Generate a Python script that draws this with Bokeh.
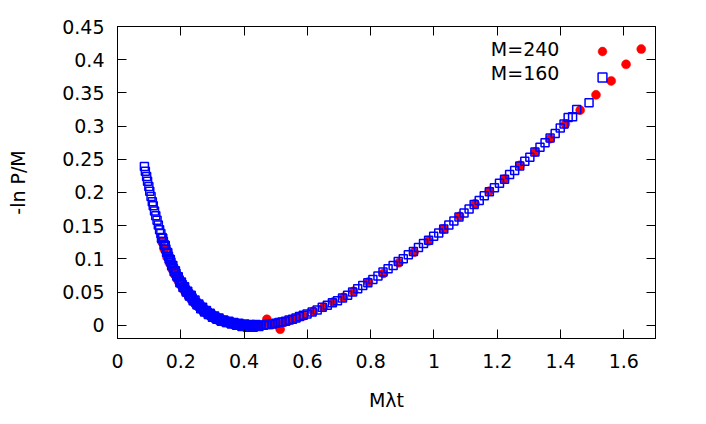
from bokeh.plotting import figure
from bokeh.models import (FixedTicker, LinearAxis, Label, Legend, LegendItem,
                          CustomJSTickFormatter, Range1d, ColumnDataSource)
from bokeh.embed import file_html
from bokeh.resources import INLINE

# ---------------- data ----------------
x_ticks = [0, 0.2, 0.4, 0.6, 0.8, 1.0, 1.2, 1.4, 1.6]
y_ticks = [0, 0.05, 0.1, 0.15, 0.2, 0.25, 0.3, 0.35, 0.4, 0.45]
labels = ["M=240", "M=160"]

x240 = [0.140, 0.148, 0.156, 0.164, 0.172, 0.180, 0.189, 0.198, 0.207, 0.216,
        0.225, 0.234, 0.244, 0.254, 0.264, 0.274, 0.284, 0.294, 0.305, 0.316,
        0.327, 0.338, 0.350, 0.362, 0.374, 0.386, 0.398, 0.410, 0.422, 0.434,
        0.446, 0.458, 0.472, 0.486, 0.500, 0.514, 0.528, 0.542, 0.557, 0.572,
        0.588, 0.619, 0.651, 0.682, 0.714, 0.746, 0.793, 0.840, 0.889, 0.937,
        0.983, 1.030, 1.081, 1.130, 1.175, 1.223, 1.272, 1.320, 1.367, 1.415,
        1.462, 1.512, 1.560, 1.607, 1.655]
y240 = [0.126, 0.114, 0.103, 0.094, 0.085, 0.077, 0.069, 0.062, 0.055, 0.049,
        0.043, 0.038, 0.033, 0.028, 0.024, 0.020, 0.016, 0.013, 0.010, 0.008,
        0.006, 0.004, 0.003, 0.002, 0.001, 0.000, -0.001, -0.001, -0.002, -0.002,
        -0.001, 0.000, 0.009, 0.001, 0.002, -0.006, 0.005, 0.007, 0.009, 0.012,
        0.014, 0.021, 0.027, 0.035, 0.042, 0.051, 0.065, 0.078, 0.094, 0.110,
        0.127, 0.145, 0.164, 0.183, 0.202, 0.220, 0.241, 0.261, 0.281, 0.303,
        0.324, 0.347, 0.368, 0.393, 0.416]

x160 = [0.085, 0.088, 0.092, 0.095, 0.099, 0.102, 0.106, 0.110, 0.113, 0.117,
        0.121, 0.125, 0.129, 0.133, 0.137, 0.141, 0.145, 0.149, 0.153, 0.157,
        0.161, 0.165, 0.169, 0.173, 0.177, 0.181, 0.185, 0.190, 0.195, 0.200,
        0.205, 0.210, 0.215, 0.220, 0.225, 0.230, 0.236, 0.242, 0.248, 0.254,
        0.260, 0.266, 0.272, 0.278, 0.284, 0.290, 0.297, 0.304, 0.311, 0.318,
        0.325, 0.332, 0.340, 0.348, 0.356, 0.364, 0.372, 0.380, 0.389, 0.398,
        0.407, 0.416, 0.425, 0.434, 0.443, 0.452, 0.461, 0.470, 0.480, 0.490,
        0.500, 0.510, 0.520, 0.531, 0.542, 0.553, 0.564, 0.575, 0.587, 0.599,
        0.615, 0.631, 0.647, 0.663, 0.679, 0.695, 0.711, 0.727, 0.743, 0.759,
        0.775, 0.791, 0.807, 0.823, 0.839, 0.855, 0.871, 0.887, 0.903, 0.919,
        0.935, 0.951, 0.967, 0.983, 0.999, 1.015, 1.031, 1.047, 1.063, 1.079,
        1.095, 1.111, 1.127, 1.143, 1.159, 1.175, 1.191, 1.207, 1.223, 1.239,
        1.255, 1.271, 1.287, 1.303, 1.319, 1.335, 1.351, 1.367, 1.383, 1.399,
        1.411, 1.424, 1.438, 1.451, 1.490,
        0.139, 0.143, 0.147, 0.151, 0.155, 0.159, 0.163, 0.167, 0.171, 0.175,
        0.179, 0.183, 0.187, 0.192, 0.197, 0.202, 0.207, 0.212, 0.217, 0.222,
        0.227, 0.233, 0.239, 0.245, 0.251, 0.257, 0.263, 0.269, 0.275, 0.281,
        0.287, 0.293, 0.300, 0.307, 0.314, 0.321, 0.328, 0.336, 0.344, 0.352,
        0.360, 0.368, 0.376, 0.384, 0.393, 0.402, 0.411, 0.420, 0.429, 0.438,
        0.447]
y160 = [0.239, 0.232, 0.224, 0.217, 0.209, 0.202, 0.194, 0.186, 0.180, 0.172,
        0.165, 0.158, 0.151, 0.144, 0.138, 0.132, 0.126, 0.121, 0.115, 0.110,
        0.104, 0.099, 0.095, 0.090, 0.085, 0.081, 0.078, 0.073, 0.068, 0.064,
        0.061, 0.057, 0.053, 0.050, 0.047, 0.044, 0.041, 0.037, 0.034, 0.031,
        0.029, 0.026, 0.023, 0.021, 0.019, 0.017, 0.015, 0.013, 0.011, 0.010,
        0.008, 0.007, 0.006, 0.005, 0.004, 0.003, 0.002, 0.001, 0.001, 0.000,
        0.000, -0.001, -0.001, -0.001, -0.001, 0.000, 0.000, 0.001, 0.001, 0.002,
        0.003, 0.004, 0.005, 0.006, 0.008, 0.009, 0.011, 0.013, 0.015, 0.017,
        0.020, 0.023, 0.027, 0.030, 0.034, 0.037, 0.041, 0.045, 0.050, 0.055,
        0.060, 0.064, 0.069, 0.074, 0.080, 0.085, 0.090, 0.096, 0.100, 0.106,
        0.111, 0.117, 0.123, 0.128, 0.134, 0.139, 0.145, 0.151, 0.157, 0.163,
        0.169, 0.175, 0.182, 0.188, 0.195, 0.201, 0.207, 0.214, 0.220, 0.227,
        0.233, 0.240, 0.247, 0.253, 0.261, 0.268, 0.275, 0.282, 0.289, 0.297,
        0.303, 0.313, 0.314, 0.325, 0.335,
        0.131, 0.131, 0.121, 0.120, 0.110, 0.109, 0.100, 0.099, 0.090, 0.090,
        0.081, 0.082, 0.074, 0.073, 0.064, 0.065, 0.057, 0.058, 0.050, 0.051,
        0.044, 0.045, 0.037, 0.038, 0.031, 0.032, 0.025, 0.027, 0.020, 0.022,
        0.016, 0.018, 0.012, 0.014, 0.009, 0.011, 0.006, 0.008, 0.004, 0.006,
        0.002, 0.004, 0.000, 0.003, -0.002, 0.002, -0.003, 0.001, -0.003, 0.001,
        -0.002]

FONT = "DejaVu Sans"
FS = "19px"

p = figure(width=698, height=416, output_backend="svg", toolbar_location=None,
           x_range=Range1d(0, 1.7), y_range=Range1d(-0.02, 0.45),
           min_border_left=117, min_border_right=43, min_border_top=26,
           min_border_bottom=78)
p.xgrid.visible = False
p.ygrid.visible = False
p.outline_line_color = "black"
p.outline_line_width = 1
p.background_fill_color = "white"
p.border_fill_color = "white"

fmt = CustomJSTickFormatter(code="""
let s = tick.toFixed(2);
s = s.replace(/0+$/, '').replace(/\\.$/, '');
if (s === '-0') s = '0';
return s;
""")
blank = CustomJSTickFormatter(code="return '';")


def style(ax, ticks, formatter, show_labels=True):
    ax.ticker = FixedTicker(ticks=ticks)
    ax.formatter = formatter
    ax.axis_line_color = "black"
    ax.axis_line_width = 1
    ax.major_tick_line_color = "black"
    ax.major_tick_line_width = 1
    ax.major_tick_in = 9
    ax.major_tick_out = 0
    ax.minor_tick_line_color = None
    ax.major_label_text_font = FONT
    ax.major_label_text_font_size = FS if show_labels else "0px"
    ax.major_label_text_color = "black"
    ax.major_label_standoff = 13 if show_labels else 0
    ax.axis_label_text_font = FONT
    ax.axis_label_text_font_size = FS
    ax.axis_label_text_font_style = "normal"
    ax.axis_label_text_color = "black"


style(p.xaxis[0], x_ticks, fmt)
style(p.yaxis[0], y_ticks, fmt)
p.xaxis[0].major_label_standoff = 15
p.xaxis[0].axis_label = "Mλt"
p.xaxis[0].axis_label_standoff = 18
p.yaxis[0].axis_label = "-ln P/M"
p.yaxis[0].axis_label_standoff = 30

top = LinearAxis()
style(top, x_ticks, blank, show_labels=False)
p.add_layout(top, "above")
right = LinearAxis()
style(right, y_ticks, blank, show_labels=False)
p.add_layout(right, "right")

src240 = ColumnDataSource(dict(x=x240, y=y240))
src160 = ColumnDataSource(dict(x=x160, y=y160))

r240 = p.scatter("x", "y", source=src240, marker="circle", size=9,
                 fill_color="#ff0000", line_color="#ff0000", line_width=0.5)
r160 = p.scatter("x", "y", source=src160, marker="square", size=8,
                 fill_color=None, line_color="#0000ff", line_width=1.5)

legend = Legend(items=[LegendItem(label=" ", renderers=[r240]),
                       LegendItem(label=" ", renderers=[r160])],
                location=(473.7, 250.3), orientation="vertical",
                glyph_width=22, glyph_height=22, label_width=0, label_height=10,
                label_standoff=0, padding=0, margin=0, spacing=4,
                border_line_alpha=0, background_fill_alpha=0,
                label_text_font_size="1px")
p.add_layout(legend)

for txt, yy in zip(labels, [0.4161, 0.3792]):
    p.add_layout(Label(x=1.3965, y=yy, text=txt, text_align="right",
                       text_baseline="middle", text_font=FONT,
                       text_font_size=FS, text_color="black"))

open("out.html", "w").write(file_html(p, INLINE))
